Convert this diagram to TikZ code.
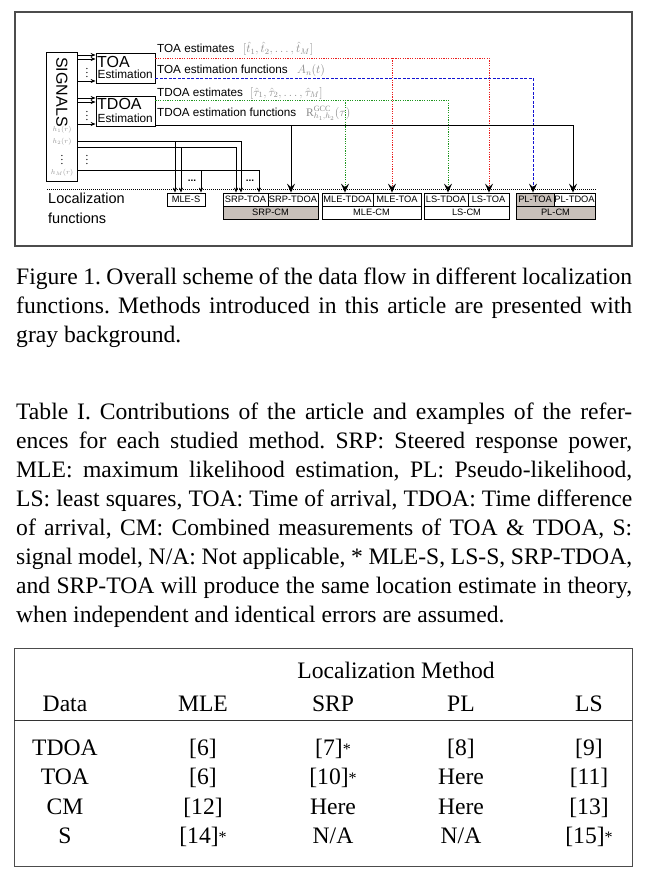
\documentclass[tikz,border=0pt]{standalone}
\usepackage{fontspec}
\setmainfont{Liberation Serif}
\setsansfont{Liberation Sans}
\usetikzlibrary{arrows.meta}
\newcommand\fsz[1]{\fontsize{#1}{#1}\selectfont}
\definecolor{boxgray}{RGB}{200,192,186}
\definecolor{lred}{RGB}{235,30,30}
\definecolor{lblue}{RGB}{20,20,210}
\definecolor{lgreen}{RGB}{30,150,30}
\tikzset{
  frame/.style={draw=black!70, line width=1.3pt},
  ln/.style={line width=0.8pt},
  sbox/.style={draw, line width=0.8pt, inner sep=0pt, minimum height=13pt, font=\sffamily\fsz{9.3}},
  gbox/.style={sbox, fill=boxgray},
  sarr/.style={ln, -{Stealth[length=5pt,width=4pt]}},
  barr/.style={line width=0.9pt, -{Stealth[length=9pt,width=8pt,inset=3.5pt,color=black]}},
  redl/.style={draw=lred, dash pattern=on 1.2pt off 1.2pt},
  bluel/.style={draw=lblue, dash pattern=on 3pt off 1.5pt},
  greenl/.style={draw=lgreen, dash pattern=on 1.2pt off 1.2pt},
  lbl/.style={anchor=base west, inner sep=0pt, font=\sffamily\fsz{11.7}},
  mlbl/.style={anchor=base west, inner sep=0pt, text=black!45, font=\fsz{11.5}},
  hlbl/.style={inner sep=0pt, text=black!40, font=\fsz{7}},
  vd/.style={inner sep=0pt, font=\fsz{11}},
  captxt/.style={anchor=base west, inner sep=0pt, font=\fsz{23.6}\frenchspacing},
  tcell/.style={anchor=base, inner sep=0pt, font=\fsz{23.6}},
}
\begin{document}
\begin{tikzpicture}[x=1pt, y=-1pt]
\useasboundingbox (0,0) rectangle (646,895);
\fill[white] (0,0) rectangle (646,895);

% outer frame of figure
\draw[frame] (15,12) rectangle (632,246);

% signals box
\node[draw, ln, minimum width=31pt, minimum height=129pt, inner sep=0pt] (sig) at (61.5,116.5) {};
\node[rotate=-90, inner sep=0pt, font=\sffamily\fsz{16}] (sigt) at (62,92) {SIGNALS};
\node[hlbl] (h1) at (62,129.5) {$h_1(r)$};
\node[hlbl] (h2) at (62,142) {$h_2(r)$};
\node[vd] (hd) at (62,157) {$\vdots$};
\node[hlbl] (hM) at (62,173) {$h_M(r)$};

% estimation boxes
\node[draw, ln, minimum width=59pt, minimum height=30pt, inner sep=0pt] (toa) at (125.5,68) {};
\node[anchor=base west, inner sep=0pt, font=\sffamily\fsz{16}] (toat) at (97,67.3) {TOA};
\node[anchor=base west, inner sep=0pt, font=\sffamily\fsz{11.8}] (toae) at (97.5,78.3) {Estimation};
\node[draw, ln, minimum width=59pt, minimum height=30pt, inner sep=0pt] (tdoa) at (125.5,111) {};
\node[anchor=base west, inner sep=0pt, font=\sffamily\fsz{16}] (tdoat) at (97,109.5) {TDOA};
\node[anchor=base west, inner sep=0pt, font=\sffamily\fsz{11.8}] (tdoae) at (97.5,122.7) {Estimation};

% arrows signals -> estimation
\draw[sarr] (sig.east |- 0,55) -- (toa.west |- 0,55);
\draw[sarr] (sig.east |- 0,59) -- (toa.west |- 0,59);
\draw[sarr] (sig.east |- 0,81) -- (toa.west |- 0,81);
\node[vd] (d1) at (87,70) {$\vdots$};
\draw[sarr] (sig.east |- 0,98) -- (tdoa.west |- 0,98);
\draw[sarr] (sig.east |- 0,102) -- (tdoa.west |- 0,102);
\draw[sarr] (sig.east |- 0,124) -- (tdoa.west |- 0,124);
\node[vd] (d2) at (87,113) {$\vdots$};
\node[vd] (d3) at (87,157) {$\vdots$};

% labels on output lines
\node[lbl] (l1) at (157,52.5) {TOA estimates};
\node[mlbl] (m1) at (243,52.5) {$[\hat{t}_1,\hat{t}_2,\ldots,\hat{t}_M]$};
\node[lbl] (l2) at (157,73.3) {TOA estimation functions};
\node[mlbl] (m2) at (297,73.3) {$A_n(t)$};
\node[lbl] (l3) at (157,96) {TDOA estimates};
\node[mlbl] (m3) at (250,96) {$[\hat{\tau}_1,\hat{\tau}_2,\ldots,\hat{\tau}_M]$};
\node[lbl] (l4) at (157,116) {TDOA estimation functions};
\node[mlbl] (m4) at (306,116) {$\mathrm{R}^{\mathrm{GCC}}_{h_1,h_2}(\tau)$};

% separator
\coordinate (sepl) at (47,189);
\coordinate (sepr) at (597,189);
\draw[line width=0.8pt, dash pattern=on 1pt off 1pt] (sepl) -- (sepr);
\node[anchor=base west, inner sep=0pt, font=\sffamily\fsz{14.5}] (lf1) at (48,203) {Localization};
\node[anchor=base west, inner sep=0pt, font=\sffamily\fsz{14.5}] (lf2) at (48,223) {functions};

% localization function boxes
\node[sbox, minimum width=38pt] (mles) at (186,199.5) {MLE-S};
\node[sbox, minimum width=45pt] (srptoa) at (245.5,199.5) {SRP-TOA};
\node[sbox, minimum width=50pt] (srptdoa) at (293,199.5) {SRP-TDOA};
\node[gbox, minimum width=95pt] (srpcm) at (270.5,212.5) {SRP-CM};
\node[sbox, minimum width=51pt] (mletdoa) at (347.5,199.5) {MLE-TDOA};
\node[sbox, minimum width=48pt] (mletoa) at (397,199.5) {MLE-TOA};
\node[sbox, minimum width=99pt] (mlecm) at (371.5,212.5) {MLE-CM};
\node[sbox, minimum width=44pt] (lstdoa) at (446,199.5) {LS-TDOA};
\node[sbox, minimum width=41pt] (lstoa) at (488.5,199.5) {LS-TOA};
\node[sbox, minimum width=85pt] (lscm) at (466.5,212.5) {LS-CM};
\node[gbox, minimum width=38pt] (pltoa) at (535,199.5) {PL-TOA};
\node[sbox, minimum width=41pt] (pltdoa) at (574.5,199.5) {PL-TDOA};
\node[gbox, minimum width=79pt] (plcm) at (555.5,212.5) {PL-CM};

% signal lines to MLE-S and SRP-TOA
\draw[sarr] (sig.east |- 0,141) -| (srptoa.north -| 241,0);
\draw[sarr] (175,141) -- (mles.north -| 175,0);
\draw[sarr] (sig.east |- 0,147) -| (srptoa.north -| 236,0);
\draw[sarr] (181,147) -- (mles.north -| 181,0);
\draw[sarr] (sig.east |- 0,170) -| (srptoa.north -| 259,0);
\draw[sarr] (201,170) -- (mles.north -| 201,0);
\node[inner sep=0pt, font=\sffamily\bfseries\fsz{10}] (dd1) at (192,181) {...};
\node[inner sep=0pt, font=\sffamily\bfseries\fsz{10}] (dd2) at (250,181) {...};

% estimate lines
\draw[redl, barr] (toa.east |- 0,58) -| (lstoa.north -| 489,0);
\draw[redl, barr] (392,58) -- (mletoa.north -| 392,0);
\draw[bluel, barr] (toa.east |- 0,78) -| (pltoa.north -| 533,0);
\draw[greenl, barr] (tdoa.east |- 0,100) -| (lstdoa.north -| 448,0);
\draw[greenl, barr] (345,100) -- (mletdoa.north -| 345,0);
\draw[barr] (tdoa.east |- 0,125) -| (pltdoa.north -| 573,0);
\draw[barr] (291,125) -- (srptdoa.north -| 291,0);

% figure caption
\node[captxt] (fc1) at (16,284) {\makebox[616pt][s]{Figure 1. Overall scheme of the data flow in different localization}};
\node[captxt] (fc2) at (16,313) {\makebox[616pt][s]{functions. Methods introduced in this article are presented with}};
\node[captxt] (fc3) at (16,342) {gray background.};

% table caption
\node[captxt] (tc1) at (16,419) {\makebox[616pt][s]{Table I. Contributions of the article and examples of the refer-}};
\node[captxt] (tc2) at (16,448) {\makebox[616pt][s]{ences for each studied method. SRP: Steered response power,}};
\node[captxt] (tc3) at (16,477) {\makebox[616pt][s]{MLE: maximum likelihood estimation, PL: Pseudo-likelihood,}};
\node[captxt] (tc4) at (16,506) {\makebox[616pt][s]{LS: least squares, TOA: Time of arrival, TDOA: Time difference}};
\node[captxt] (tc5) at (16,535) {\makebox[616pt][s]{of arrival, CM: Combined measurements of TOA \& TDOA, S:}};
\node[captxt] (tc6) at (16,564) {\makebox[616pt][s]{signal model, N/A: Not applicable, * MLE-S, LS-S, SRP-TDOA,}};
\node[captxt] (tc7) at (16,593) {\makebox[616pt][s]{and SRP-TOA will produce the same location estimate in theory,}};
\node[captxt] (tc8) at (16,622) {when independent and identical errors are assumed.};

% table
\draw[frame, line width=1pt] (14,648) rectangle (632,866);
\draw[line width=1pt, draw=black!80] (14,720) -- (632,720);
\node[tcell] (lm) at (396,678) {Localization Method};
\node[tcell] (hd0) at (65,711.5) {Data};
\node[tcell] (hd1) at (203,711.5) {MLE};
\node[tcell] (hd2) at (333,711.5) {SRP};
\node[tcell] (hd3) at (461,711.5) {PL};
\node[tcell] (hd4) at (589,711.5) {LS};
\newcommand\st{\raisebox{1pt}{\fsz{16}*}}
\node[tcell] (r10) at (65,755) {TDOA};
\node[tcell] (r11) at (203,755) {[6]};
\node[tcell] (r12) at (333,755) {[7]\st};
\node[tcell] (r13) at (461,755) {[8]};
\node[tcell] (r14) at (589,755) {[9]};
\node[tcell] (r20) at (65,784.5) {TOA};
\node[tcell] (r21) at (203,784.5) {[6]};
\node[tcell] (r22) at (333,784.5) {[10]\st};
\node[tcell] (r23) at (461,784.5) {Here};
\node[tcell] (r24) at (589,784.5) {[11]};
\node[tcell] (r30) at (65,814) {CM};
\node[tcell] (r31) at (203,814) {[12]};
\node[tcell] (r32) at (333,814) {Here};
\node[tcell] (r33) at (461,814) {Here};
\node[tcell] (r34) at (589,814) {[13]};
\node[tcell] (r40) at (65,843) {S};
\node[tcell] (r41) at (203,843) {[14]\st};
\node[tcell] (r42) at (333,843) {N/A};
\node[tcell] (r43) at (461,843) {N/A};
\node[tcell] (r44) at (589,843) {[15]\st};
\end{tikzpicture}
\end{document}
